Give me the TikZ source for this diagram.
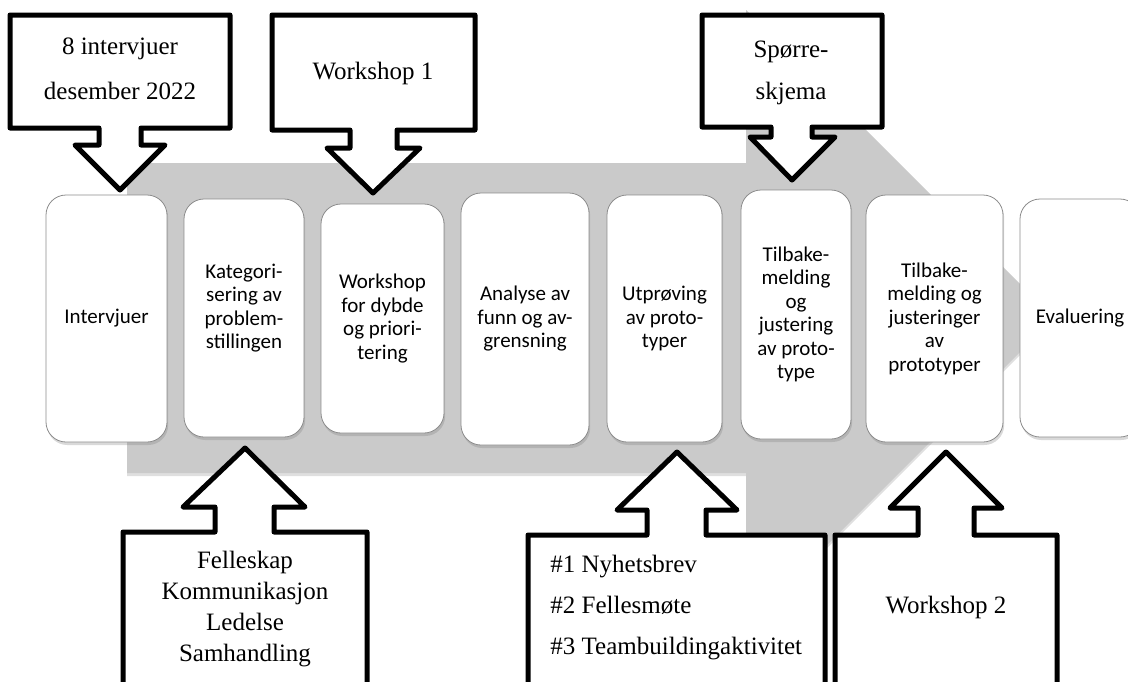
\documentclass[tikz,border=0pt]{standalone}
\usepackage{fontspec}
\setmainfont{Liberation Serif}
\newfontfamily\boxfont{Carlito}
\usetikzlibrary{shadows}
\definecolor{flowgray}{RGB}{202,202,202}
\definecolor{boxline}{RGB}{140,140,140}

\tikzset{
  stepbox/.style={draw=boxline, line width=0.4pt, fill=white, rounded corners=10pt, inner sep=0pt,
    drop shadow={shadow xshift=0.6pt, shadow yshift=-1.5pt, opacity=0.3}},
  steptext/.style={align=center, inner sep=0pt, font=\boxfont\fontsize{10.5}{11.75}\selectfont},
  callout/.style={draw=black, fill=white, line width=2.5pt, line join=round},
  callouttext/.style={align=center, inner sep=0pt},
}

\begin{document}
\begin{tikzpicture}[x=0.5pt, y=-0.5pt]
	\useasboundingbox (0,0) rectangle (1128,681);
	\clip (0,0) rectangle (1128,681);
	% grå prosesspil
	\fill[flowgray, drop shadow={shadow xshift=0pt, shadow yshift=-1.5pt, opacity=0.25}]
		(127,163) -- (746,163) -- (746,10) -- (1054,318) -- (746,626) -- (746,473) -- (127,473) -- cycle;
	% trinn
	\node[stepbox, minimum width=60.5pt, minimum height=123.5pt] (b1) at (106.5,318.5) {};
	\node[stepbox, minimum width=60pt, minimum height=119pt] (b2) at (244,318) {};
	\node[stepbox, minimum width=61.5pt, minimum height=114.5pt] (b3) at (382.5,318.5) {};
	\node[stepbox, minimum width=64pt, minimum height=126pt] (b4) at (525,319) {};
	\node[stepbox, minimum width=57.5pt, minimum height=123.5pt] (b5) at (664.5,318.5) {};
	\node[stepbox, minimum width=55pt, minimum height=124.5pt] (b6) at (796,314.5) {};
	\node[stepbox, minimum width=68.5pt, minimum height=123.5pt] (b7) at (934.5,318.5) {};
	\node[stepbox, minimum width=60pt, minimum height=119pt] (b8) at (1080,318) {};
	\node[steptext] (t1) at (b1) {Intervjuer};
	\node[steptext] (t2) at ([yshift=5pt]b2.center) {Kategori-\\sering av\\problem-\\stillingen};
	\node[steptext] (t3) at (b3) {Workshop\\for dybde\\og priori-\\tering};
	\node[steptext] (t4) at (b4) {Analyse av\\funn og av-\\grensning};
	\node[steptext] (t5) at (b5) {Utprøving\\av proto-\\typer};
	\node[steptext] (t6) at (b6) {Tilbake-\\melding\\og\\justering\\av proto-\\type};
	\node[steptext] (t7) at (b7) {Tilbake-\\melding og\\justeringer\\av\\prototyper};
	\node[steptext] (t8) at (b8) {Evaluering};
	% innspill ovenfra
	\draw[callout] (10,15) -- (230,15) -- (230,128) -- (141,128) -- (141,145) -- (165,145) -- (120,190)
		-- (75,145) -- (99,145) -- (99,128) -- (10,128) -- cycle;
	\node[callouttext, font=\fontsize{12.5}{22.5}\selectfont] (c1) at (120,68.5) {8 intervjuer\\desember 2022};
	\draw[callout] (272,15) -- (475,15) -- (475,130) -- (397,130) -- (397,148) -- (420,148) -- (373,193)
		-- (327,148) -- (350,148) -- (350,130) -- (272,130) -- cycle;
	\node[callouttext, font=\fontsize{12.5}{15}\selectfont] (c2) at (373,73) {Workshop 1};
	\draw[callout] (702,15) -- (882,15) -- (882,127) -- (812,127) -- (812,137) -- (835,137) -- (792,180)
		-- (750,137) -- (771,137) -- (771,127) -- (702,127) -- cycle;
	\node[callouttext, font=\fontsize{12.5}{21}\selectfont] (c3) at (791,73) {Spørre-\\skjema};
	% innspill nedenfra
	\draw[callout] (123,700) -- (123,532) -- (215,532) -- (215,507) -- (183,507) -- (245,448)
		-- (305,507) -- (274,507) -- (274,532) -- (367,532) -- (367,700);
	\node[callouttext, font=\fontsize{12.5}{15.5}\selectfont] (c4) at (245,609) {Felleskap\\Kommunikasjon\\Ledelse\\Samhandling};
	\draw[callout] (528,700) -- (528,535) -- (647,535) -- (647,510) -- (617,510) -- (677,452)
		-- (737,510) -- (706,510) -- (706,535) -- (825,535) -- (825,700);
	\node[callouttext, align=left, anchor=west, font=\fontsize{12.5}{20.5}\selectfont] (c5) at (550,608)
		{\#1 Nyhetsbrev\\\#2 Fellesmøte\\\#3 Teambuildingaktivitet};
	\draw[callout] (835,700) -- (835,535) -- (918,535) -- (918,508) -- (890,508) -- (946,452)
		-- (1002,508) -- (974,508) -- (974,535) -- (1057,535) -- (1057,700);
	\node[callouttext, font=\fontsize{12.5}{15}\selectfont] (c6) at (946,607) {Workshop 2};
\end{tikzpicture}
\end{document}
